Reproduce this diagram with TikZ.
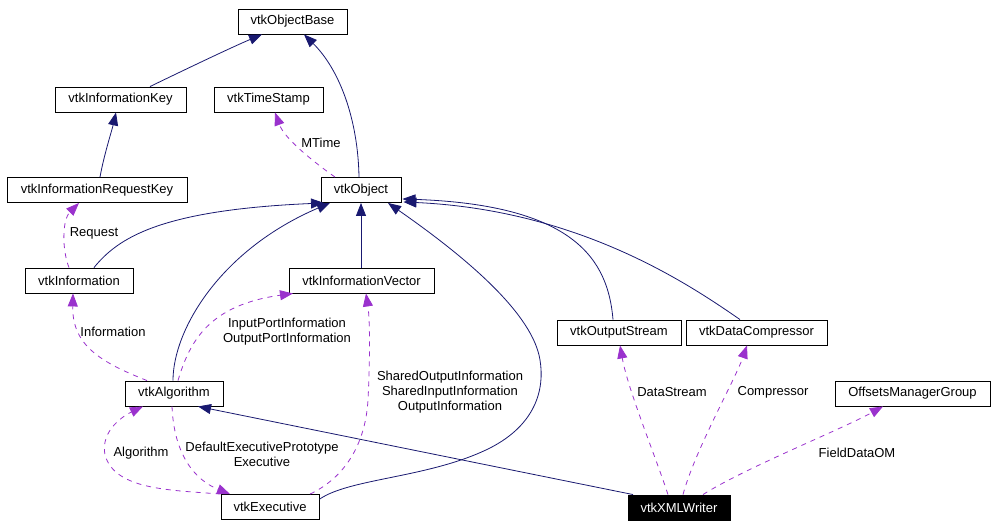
\documentclass[tikz,border=0pt]{standalone}
\usepackage{fontspec}
\setmainfont{Liberation Sans}
\usetikzlibrary{arrows.meta,calc}
\definecolor{edgeblue}{HTML}{191970}
\definecolor{edgepurple}{HTML}{9A32CD}
\begin{document}
\begin{tikzpicture}[x=1pt,y=-1pt,
  cls/.style={draw=black, line width=0.9pt, fill=white, inner sep=0pt, minimum height=25pt, font=\fontsize{13}{15}\selectfont},
  inh/.style={draw=edgeblue, line width=0.8pt, -{Triangle[length=13pt,width=10pt]}},
  use/.style={draw=edgepurple, line width=0.8pt, dash pattern=on 5pt off 5pt, -{Triangle[length=13pt,width=10pt]}},
  lbl/.style={font=\fontsize{13}{15}\selectfont, align=center, inner sep=0pt}]
\useasboundingbox (0,0) rectangle (1000,527);
% nodes
\node[cls, minimum width=109pt] (objbase) at (292.5,21.5) {vtkObjectBase};
\node[cls, minimum width=131pt] (infokey) at (120.5,99.5) {vtkInformationKey};
\node[cls, minimum width=109pt] (timestamp) at (268.5,99.5) {vtkTimeStamp};
\node[cls, minimum width=180pt] (reqkey) at (97,190) {vtkInformationRequestKey};
\node[cls, minimum width=80pt] (obj) at (361,190) {vtkObject};
\node[cls, minimum width=108pt] (info) at (79,280.5) {vtkInformation};
\node[cls, minimum width=145pt] (infovec) at (361.5,280.5) {vtkInformationVector};
\node[cls, minimum width=98pt] (algo) at (174,393.5) {vtkAlgorithm};
\node[cls, minimum width=98pt] (exec) at (270,507) {vtkExecutive};
\node[cls, minimum width=124pt] (outstream) at (619,332.5) {vtkOutputStream};
\node[cls, minimum width=141pt] (datacomp) at (756.5,332.5) {vtkDataCompressor};
\node[cls, minimum width=155pt] (offsets) at (912.5,393.5) {OffsetsManagerGroup};
\node[cls, minimum width=102pt, fill=black, text=white] (xmlwriter) at (679,507.5) {vtkXMLWriter};
\coordinate (objse1) at ($(obj.south east)+(1,-4)$);
\coordinate (objse2) at ($(obj.south east)+(2,-1)$);
% inheritance edges
\draw[inh] ([xshift=29.5pt]infokey.north) .. controls (180,72) and (230,48) .. ([xshift=-30.5pt]objbase.south);
\draw[inh] ([xshift=-2pt]obj.north) .. controls (358,120) and (340,70) .. ([xshift=11.5pt]objbase.south);
\draw[inh] ([xshift=3pt]reqkey.north) .. controls (104,155) and (112,130) .. ([xshift=-4.5pt]infokey.south);
\draw[inh] ([xshift=15pt]info.north) .. controls (118,238) and (160,210) .. ([xshift=-37pt]obj.south);
\draw[inh] ([xshift=-1pt]algo.north) .. controls (173,330) and (220,250) .. ([xshift=-31pt]obj.south);
\draw[inh] (infovec.north -| obj.south) -- (obj.south);
\draw[inh] ($(exec.north east)!0.2!(exec.south east)$) .. controls (350,478) and (430,478) .. (490,448) .. controls (535,425) and (545,390) .. (540,360) .. controls (533,315) and (470,260) .. ([xshift=27pt]obj.south);
\draw[inh] ([xshift=-46pt]xmlwriter.north) -- ([xshift=24pt]algo.south);
\draw[inh] ([xshift=-6pt]outstream.north) .. controls (608,260) and (575,205) .. (objse1);
\draw[inh] ([xshift=-16.5pt]datacomp.north) .. controls (690,285) and (580,210) .. (objse2);
% usage edges
\draw[use] ([xshift=-26pt]obj.north) .. controls (318,165) and (285,140) .. ([xshift=6.5pt]timestamp.south);
\node[lbl] (lmtime) at (321,143) {MTime};
\draw[use] ([xshift=-10pt]info.north) .. controls (62,250) and (62,220) .. ([xshift=-18pt]reqkey.south);
\node[lbl] (lrequest) at (94,233) {Request};
\draw[use] ([xshift=-27pt]algo.north) .. controls (100,362) and (72,345) .. ([xshift=-6pt]info.south);
\node[lbl] (linformation) at (113,332) {Information};
\draw[use] ([xshift=4pt]algo.north) .. controls (190,340) and (210,305) .. ([xshift=-68.5pt]infovec.south);
\node[lbl] (lports) at (287,332) {InputPortInformation\\OutputPortInformation};
\draw[use] ([xshift=40pt]exec.north) .. controls (340,480) and (365,450) .. (368,400) .. controls (370,360) and (370,320) .. ([xshift=4.5pt]infovec.south);
\node[lbl] (lshared) at (450,392) {SharedOutputInformation\\SharedInputInformation\\OutputInformation};
\draw[use] (exec.north west) .. controls (170,490) and (115,490) .. (105,455) .. controls (100,430) and (125,415) .. ([xshift=-31pt]algo.south);
\node[lbl] (lalgorithm) at (141,453) {Algorithm};
\draw[use] ([xshift=-2pt]algo.south) .. controls (174,455) and (195,480) .. ([xshift=-40pt]exec.north);
\node[lbl] (lexec) at (262,454) {DefaultExecutivePrototype\\Executive};
\draw[use] ([xshift=-11pt]xmlwriter.north) .. controls (655,455) and (628,390) .. ([xshift=1pt]outstream.south);
\node[lbl] (ldatastream) at (672,392) {DataStream};
\draw[use] ([xshift=4pt]xmlwriter.north) .. controls (695,450) and (735,380) .. ([xshift=-9.5pt]datacomp.south);
\node[lbl] (lcompressor) at (773,392) {Compressor};
\draw[use] ([xshift=24pt]xmlwriter.north) .. controls (745,468) and (840,430) .. ([xshift=-29.5pt]offsets.south);
\node[lbl] (lfielddata) at (857,453) {FieldDataOM};
\end{tikzpicture}
\end{document}
